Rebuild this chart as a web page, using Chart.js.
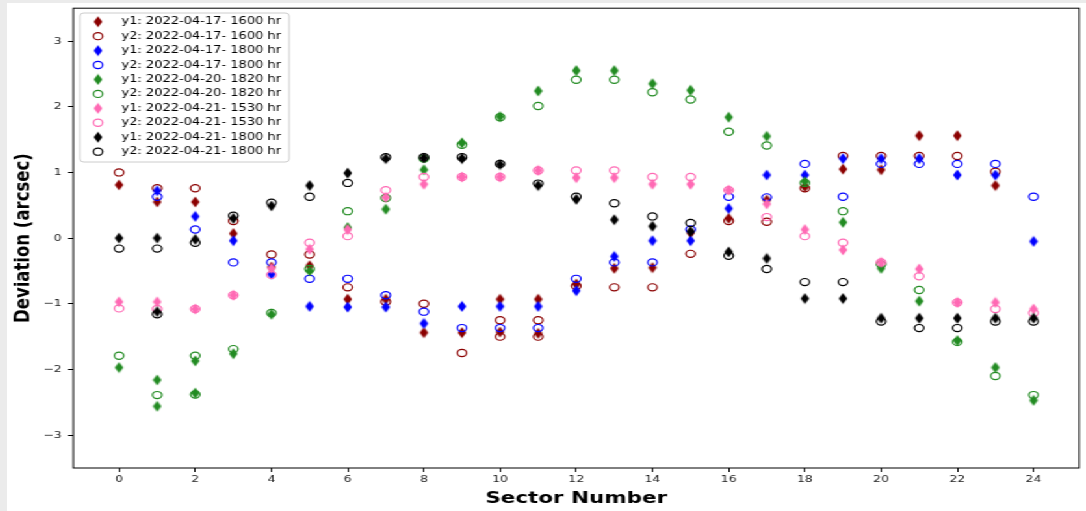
<!DOCTYPE html>
<html>
<head>
<meta charset="utf-8">
<script src="https://cdn.jsdelivr.net/npm/chart.js@4/dist/chart.umd.min.js"></script>
<style>
  html, body { margin: 0; padding: 0; background: #ebebeb; overflow: hidden; }
  /* the reference figure is stretched sideways, so the canvas is too */
  #wrap { position: absolute; left: 7px; top: 3px; width: 830px; height: 508px; background: #fff;
          transform: scaleX(1.3); transform-origin: 0 0; }
</style>
</head>
<body>
<div id="wrap"><canvas id="devChart" width="830" height="508"></canvas></div>
<script>
const sectors = [0, 1, 2, 3, 4, 5, 6, 7, 8, 9, 10, 11, 12, 13, 14, 15, 16, 17, 18, 19, 20, 21, 22, 23, 24]
const xTicks = [0, 2, 4, 6, 8, 10, 12, 14, 16, 18, 20, 22, 24]
const yTicks = [-3, -2, -1, 0, 1, 2, 3]

// 2022-04-17 1600 hr
const red1 = [0.81, 0.55, 0.55, 0.07, -0.44, -0.42, -0.93, -0.93, -1.44, -1.44, -0.93, -0.93, -0.70, -0.46, -0.45, 0.08, 0.30, 0.58, 0.78, 1.05, 1.04, 1.56, 1.56, 0.80, null]
const red2 = [1.00, 0.76, 0.76, 0.26, -0.25, -0.25, -0.75, -0.97, -1.00, -1.75, -1.25, -1.25, -0.73, -0.75, -0.75, -0.24, 0.26, 0.25, 0.76, 1.25, 1.25, 1.25, 1.25, 1.01, null]
const red1Extra = [[10, -1.43], [11, -1.45]]
const red2Extra = [[10, -1.50], [11, -1.50]]

// 2022-04-17 1800 hr
const blue1 = [null, 0.72, 0.33, -0.04, -0.55, -1.04, -1.05, -1.05, -1.30, -1.04, -1.04, -1.04, -0.80, -0.28, -0.04, -0.04, 0.45, 0.96, 0.96, 1.21, 1.21, 1.21, 0.96, 0.96, -0.05]
const blue2 = [null, 0.63, 0.13, -0.37, -0.37, -0.62, -0.62, -0.87, -1.12, -1.37, -1.37, -1.37, -0.62, -0.37, -0.37, 0.13, 0.63, 0.62, 1.13, 0.63, 1.13, 1.13, 1.13, 1.13, 0.63]

// 2022-04-20 1820 hr
const green1 = [-1.97, -2.16, -1.87, -1.76, -1.16, -0.50, 0.16, 0.44, 1.04, 1.45, 1.85, 2.24, 2.55, 2.55, 2.35, 2.25, 1.84, 1.55, 0.86, 0.24, -0.46, -0.96, -1.56, -1.97, -2.47]
const green2 = [-1.79, -2.39, -1.79, -1.69, -1.14, -0.47, 0.41, 0.61, 1.21, 1.42, 1.84, 2.01, 2.41, 2.41, 2.22, 2.11, 1.62, 1.41, 0.84, 0.41, -0.40, -0.79, -1.58, -2.10, -2.39]
const green1Extra = [[1, -2.56], [2, -2.36]]
const green2Extra = [[2, -2.38]]

// 2022-04-21 1530 hr
const pink1 = [-0.97, -0.97, -1.08, -0.87, -0.46, -0.17, 0.13, 0.62, 0.82, 0.93, 0.93, 1.03, 0.92, 0.92, 0.82, 0.82, 0.73, 0.52, 0.13, -0.18, -0.37, -0.47, -0.98, -0.98, -1.08]
const pink2 = [-1.07, -1.08, -1.08, -0.87, -0.56, -0.07, 0.03, 0.73, 0.93, 0.93, 0.93, 1.03, 1.03, 1.03, 0.93, 0.93, 0.73, 0.32, 0.03, -0.07, -0.37, -0.58, -0.98, -1.08, -1.14]

// 2022-04-21 1800 hr
const black1 = [0.00, 0.00, -0.02, 0.30, 0.49, 0.80, 0.99, 1.21, 1.22, 1.21, 1.12, 0.80, 0.59, 0.28, 0.18, 0.10, -0.21, -0.31, -0.92, -0.92, -1.22, -1.22, -1.22, -1.22, -1.22]
const black2 = [-0.16, -0.16, -0.07, 0.34, 0.54, 0.63, 0.84, 1.23, 1.23, 1.23, 1.13, 0.83, 0.63, 0.53, 0.33, 0.23, -0.27, -0.47, -0.67, -0.67, -1.27, -1.37, -1.37, -1.27, -1.27]
const black1Extra = [[1, -1.12]]
const black2Extra = [[1, -1.16]]

function toPoints(values, extra) {
    const pts = []
    sectors.forEach((s, i) => {
        if (values[i] !== null) pts.push({x: s, y: values[i]})
    })
    ;(extra || []).forEach(p => pts.push({x: p[0], y: p[1]}))
    return pts
}

// thin diamond marker like matplotlib 'd'
function diamond(color) {
    const c = document.createElement('canvas')
    c.width = 8
    c.height = 12
    const g = c.getContext('2d')
    g.fillStyle = color
    g.beginPath()
    g.moveTo(4, 0.5)
    g.lineTo(7.3, 6)
    g.lineTo(4, 11.5)
    g.lineTo(0.7, 6)
    g.closePath()
    g.fill()
    return c
}

function filled(label, color, values, extra) {
    return {
        label: label,
        data: toPoints(values, extra),
        pointStyle: diamond(color),
        borderColor: color,
        backgroundColor: color
    }
}

function open(label, color, values, extra) {
    return {
        label: label,
        data: toPoints(values, extra),
        pointStyle: 'circle',
        pointRadius: 3.6,
        borderWidth: 1.2,
        borderColor: color,
        backgroundColor: 'rgba(0,0,0,0)'
    }
}

const datasets = [
    filled('y1: 2022-04-17- 1600 hr', '#8b0000', red1, red1Extra),
    open('y2: 2022-04-17- 1600 hr', '#8b0000', red2, red2Extra),
    filled('y1: 2022-04-17- 1800 hr', '#0000ff', blue1),
    open('y2: 2022-04-17- 1800 hr', '#0000ff', blue2),
    filled('y1: 2022-04-20- 1820 hr', '#228b22', green1, green1Extra),
    open('y2: 2022-04-20- 1820 hr', '#228b22', green2, green2Extra),
    filled('y1: 2022-04-21- 1530 hr', '#ff69b4', pink1),
    open('y2: 2022-04-21- 1530 hr', '#ff69b4', pink2),
    filled('y1: 2022-04-21- 1800 hr', '#000000', black1, black1Extra),
    open('y2: 2022-04-21- 1800 hr', '#000000', black2, black2Extra)
]
// later series on top, like matplotlib
datasets.forEach((d, i) => { d.order = -i })

// axes box + legend box in the top left corner
const frameAndLegend = {
    id: 'frameAndLegend',
    afterDraw(chart) {
        const ctx = chart.ctx
        const a = chart.chartArea
        ctx.save()
        ctx.strokeStyle = '#000'
        ctx.lineWidth = 1
        ctx.strokeRect(a.left, a.top, a.right - a.left, a.bottom - a.top)

        const bx = 56, by = 10, bw = 161, bh = 149
        ctx.fillStyle = 'rgba(255,255,255,0.8)'
        ctx.strokeStyle = '#cccccc'
        ctx.beginPath()
        ctx.roundRect(bx, by, bw, bh, 3)
        ctx.fill()
        ctx.stroke()

        ctx.font = '10px "DejaVu Sans"'
        ctx.textBaseline = 'middle'
        ctx.textAlign = 'left'
        chart.data.datasets.forEach((d, i) => {
            const y = 18.7 + i * 14.44
            if (typeof d.pointStyle === 'object') {
                ctx.drawImage(d.pointStyle, 70 - d.pointStyle.width / 2, y - d.pointStyle.height / 2)
            } else {
                ctx.strokeStyle = d.borderColor
                ctx.lineWidth = 1.2
                ctx.beginPath()
                ctx.arc(70, y, 3.6, 0, Math.PI * 2)
                ctx.stroke()
            }
            ctx.fillStyle = '#000'
            ctx.fillText(d.label, 88, y)
        })
        ctx.restore()
    }
}

new Chart(document.getElementById('devChart'), {
    type: 'scatter',
    data: { datasets: datasets },
    options: {
        responsive: false,
        animation: false,
        layout: { padding: { left: 0, right: 1, top: 5, bottom: 0 } },
        plugins: {
            legend: { display: false },
            tooltip: { enabled: false }
        },
        scales: {
            x: {
                type: 'linear',
                min: -1.2,
                max: 25.2,
                afterBuildTicks: s => { s.ticks = xTicks.map(v => ({value: v})) },
                afterFit: s => { s.height = 43; s.paddingLeft = 0; s.paddingRight = 0 },
                grid: { drawOnChartArea: false, drawTicks: true, tickLength: 4, color: '#000' },
                border: { display: false },
                ticks: {
                    padding: 2,
                    color: '#222',
                    font: { family: 'DejaVu Sans', size: 9.5 }
                },
                title: {
                    display: true,
                    text: 'Sector Number',
                    color: '#000',
                    padding: { top: 0, bottom: 2 },
                    font: { family: 'DejaVu Sans', size: 16.5, weight: 'bold' }
                }
            },
            y: {
                min: -3.5,
                max: 3.5,
                afterBuildTicks: s => { s.ticks = yTicks.map(v => ({value: v})) },
                afterFit: s => { s.width = 51; s.paddingTop = 0; s.paddingBottom = 0 },
                grid: { drawOnChartArea: false, drawTicks: true, tickLength: 4, color: '#000' },
                border: { display: false },
                ticks: {
                    padding: 5,
                    color: '#222',
                    font: { family: 'DejaVu Sans', size: 9.5 },
                    callback: v => String(v).replace('-', '\u2212')
                },
                title: {
                    display: true,
                    text: 'Deviation (arcsec)',
                    color: '#000',
                    padding: { top: 3, bottom: 0 },
                    font: { family: 'DejaVu Sans', size: 16.5, weight: 'bold' }
                }
            }
        }
    },
    plugins: [frameAndLegend]
})
</script>
</body>
</html>
